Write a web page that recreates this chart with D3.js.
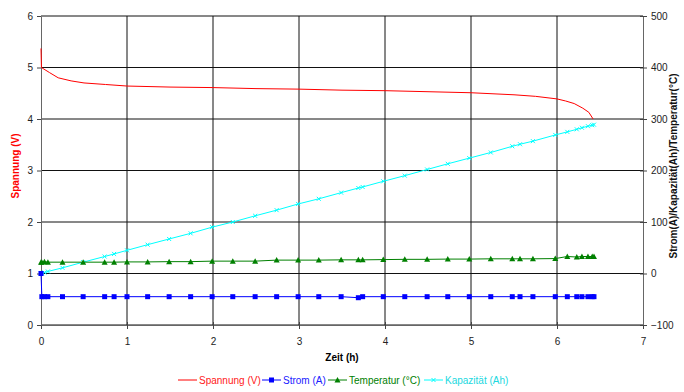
<!DOCTYPE html>
<html>
<head>
<meta charset="utf-8">
<script src="https://d3js.org/d3.v7.min.js"></script>
<style>
  body { margin: 0; background: #fff; }
  svg { font-family: "Liberation Sans", Arial, sans-serif; display: block; }
  .tick text { fill: #222; font-size: 10px; }
  .grid line { stroke: #111; stroke-width: 1px; }
</style>
</head>
<body>
<div id="chart"></div>
<script>
// voltage curve (left axis)
var voltTime = [0, 0.005, 0.1, 0.2, 0.35, 0.5, 0.75, 1.0, 1.5, 2.0, 2.5, 3.0, 3.5, 4.0, 4.5, 5.0, 5.5, 5.75, 6.0, 6.1, 6.2, 6.3, 6.37, 6.42];
var voltage  = [5.37, 5.0, 4.9, 4.8, 4.74, 4.70, 4.67, 4.64, 4.62, 4.61, 4.59, 4.58, 4.56, 4.55, 4.53, 4.51, 4.47, 4.44, 4.39, 4.35, 4.30, 4.21, 4.13, 4.0];

// logged points (right axis)
var time = [0, 0.01, 0.04, 0.08, 0.25, 0.49, 0.74, 0.85, 1.0, 1.24, 1.49, 1.74, 1.99, 2.23, 2.49, 2.74, 2.99, 3.23, 3.49, 3.69, 3.74, 3.98, 4.23, 4.49, 4.73, 4.98, 5.23, 5.48, 5.57, 5.72, 5.98, 6.12, 6.23, 6.29, 6.36, 6.41, 6.43];
var current = [0, -45, -45, -45, -45, -45, -45, -45, -45, -45, -45, -45, -45, -45, -45, -45, -45, -45, -45, -47, -45, -45, -45, -45, -45, -45, -45, -45, -45, -45, -45, -45, -45, -45, -45, -45, -45];
var temperature = [22, 22, 23, 22, 22, 22, 22, 22, 22.5, 22.5, 23, 23, 24, 24, 24, 26, 26, 26, 26.5, 26.5, 26.5, 27, 27.5, 27.5, 28, 28, 28.5, 28.5, 28.5, 28.5, 29, 33, 32, 33, 33, 33, 33];
var capacity = [0, 0.5, 2, 4, 11, 22, 33, 38, 45, 56, 67, 78, 90, 100, 112, 123, 135, 145, 157, 166, 168, 179, 190, 202, 213, 224, 235, 247, 251, 257, 269, 275, 280, 283, 286, 288, 289];

var xTicks = [0, 1, 2, 3, 4, 5, 6, 7];
var leftTicks = [0, 1, 2, 3, 4, 5, 6];
var rightTicks = [-100, 0, 100, 200, 300, 400, 500];

(function draw() {
var W = 684, H = 392;
var pL = 41, pR = 643, pT = 16, pB = 325;

var svg = d3.select("#chart").append("svg")
    .attr("width", W).attr("height", H);

var x = d3.scaleLinear().domain([0, 7]).range([pL, pR]);
var yL = d3.scaleLinear().domain([0, 6]).range([pB, pT]);
var yR = d3.scaleLinear().domain([-100, 500]).range([pB, pT]);

// grid
var grid = svg.append("g").attr("class", "grid");
grid.selectAll(".h").data(leftTicks).enter().append("line")
    .attr("x1", pL).attr("x2", pR)
    .attr("y1", d => yL(d)).attr("y2", d => yL(d));
grid.selectAll(".v").data(xTicks.slice(1, -1)).enter().append("line")
    .attr("y1", pT).attr("y2", pB)
    .attr("x1", d => x(d)).attr("x2", d => x(d));

// axes
function styleAxis(g) {
    g.select(".domain").attr("stroke", "#666");
    g.selectAll(".tick line").attr("stroke", "#444");
}
svg.append("g")
    .attr("transform", "translate(0," + pB + ")")
    .call(d3.axisBottom(x).tickValues(xTicks).tickFormat(d3.format("d")).tickSize(4).tickSizeOuter(0).tickPadding(9))
    .call(styleAxis)
    .call(g => g.selectAll(".tick line").attr("y1", -3));
svg.append("g")
    .attr("transform", "translate(" + pL + ",0)")
    .call(d3.axisLeft(yL).tickValues(leftTicks).tickFormat(d3.format("d")).tickSize(4).tickSizeOuter(0).tickPadding(4))
    .call(styleAxis);
svg.append("g")
    .attr("transform", "translate(" + pR + ",0)")
    .call(d3.axisRight(yR).tickValues(rightTicks).tickFormat(d3.format("d")).tickSize(4).tickSizeOuter(0).tickPadding(4))
    .call(styleAxis)
    .call(g => g.selectAll(".tick line").attr("x1", -3));

// series
var volt = voltTime.map((t, i) => ({t: t, v: voltage[i]}));
var pts = time.map((t, i) => ({t: t, a: current[i], c: temperature[i], k: capacity[i]}));

svg.append("path").datum(volt)
    .attr("fill", "none").attr("stroke", "#ff0000").attr("stroke-width", 1)
    .attr("d", d3.line().x(d => x(d.t)).y(d => yL(d.v)));

var series = [
    {key: "k", color: "#00ffff", marker: "x"},
    {key: "c", color: "#008000", marker: "tri"},
    {key: "a", color: "#0000ff", marker: "sq"}
];
series.forEach(s => {
    svg.append("path").datum(pts)
        .attr("fill", "none").attr("stroke", s.color).attr("stroke-width", 1)
        .attr("d", d3.line().x(d => x(d.t)).y(d => yR(d[s.key])));
    var m = svg.append("g").selectAll("path").data(pts).enter().append("path")
        .attr("transform", d => "translate(" + x(d.t) + "," + yR(d[s.key]) + ")");
    if (s.marker === "sq") m.attr("d", "M-2.5,-2.5h5v5h-5z").attr("fill", s.color);
    if (s.marker === "tri") m.attr("d", "M0,-3L3,2.5H-3Z").attr("fill", s.color);
    if (s.marker === "x") m.attr("d", "M-2,-2L2,2M-2,2L2,-2").attr("stroke", s.color).attr("fill", "none");
});

// axis titles
svg.append("text").attr("x", x(3.5)).attr("y", 361)
    .attr("text-anchor", "middle").attr("font-size", 10).attr("font-weight", "bold")
    .text("Zeit (h)");
svg.append("text").attr("transform", "translate(19,166) rotate(-90)")
    .attr("text-anchor", "middle").attr("font-size", 10).attr("font-weight", "bold")
    .attr("fill", "#ff0000").text("Spannung (V)");
svg.append("text").attr("transform", "translate(677,166) rotate(-90)")
    .attr("text-anchor", "middle").attr("font-size", 10).attr("font-weight", "bold")
    .attr("fill", "#111").text("Strom(A)/Kapazität(Ah)/Temperatur(°C)");

// legend
var legend = [
    {name: "Spannung (V)", color: "#ff0000", text: "#ff2020", marker: null, x: 178},
    {name: "Strom (A)", color: "#0000ff", text: "#2020ff", marker: "sq", x: 262},
    {name: "Temperatur (°C)", color: "#008000", text: "#008000", marker: "tri", x: 328},
    {name: "Kapazität (Ah)", color: "#00ffff", text: "#20d8e0", marker: "x", x: 424}
];
var lg = svg.append("g").attr("transform", "translate(0,380)");
legend.forEach(l => {
    lg.append("line").attr("x1", l.x).attr("x2", l.x + 19)
        .attr("stroke", l.color).attr("stroke-width", 1);
    var cx = l.x + 9.5;
    if (l.marker === "sq") lg.append("path").attr("d", "M" + (cx - 2.5) + ",-2.5h5v5h-5z").attr("fill", l.color);
    if (l.marker === "tri") lg.append("path").attr("d", "M" + cx + ",-3l3,5.5h-6z").attr("fill", l.color);
    if (l.marker === "x") lg.append("path").attr("d", "M" + (cx - 2) + ",-2l4,4m-4,0l4,-4").attr("stroke", l.color);
    lg.append("text").attr("x", l.x + 21).attr("y", 3.5).attr("font-size", 10)
        .attr("fill", l.text).text(l.name);
});
})();
</script>
</body>
</html>
